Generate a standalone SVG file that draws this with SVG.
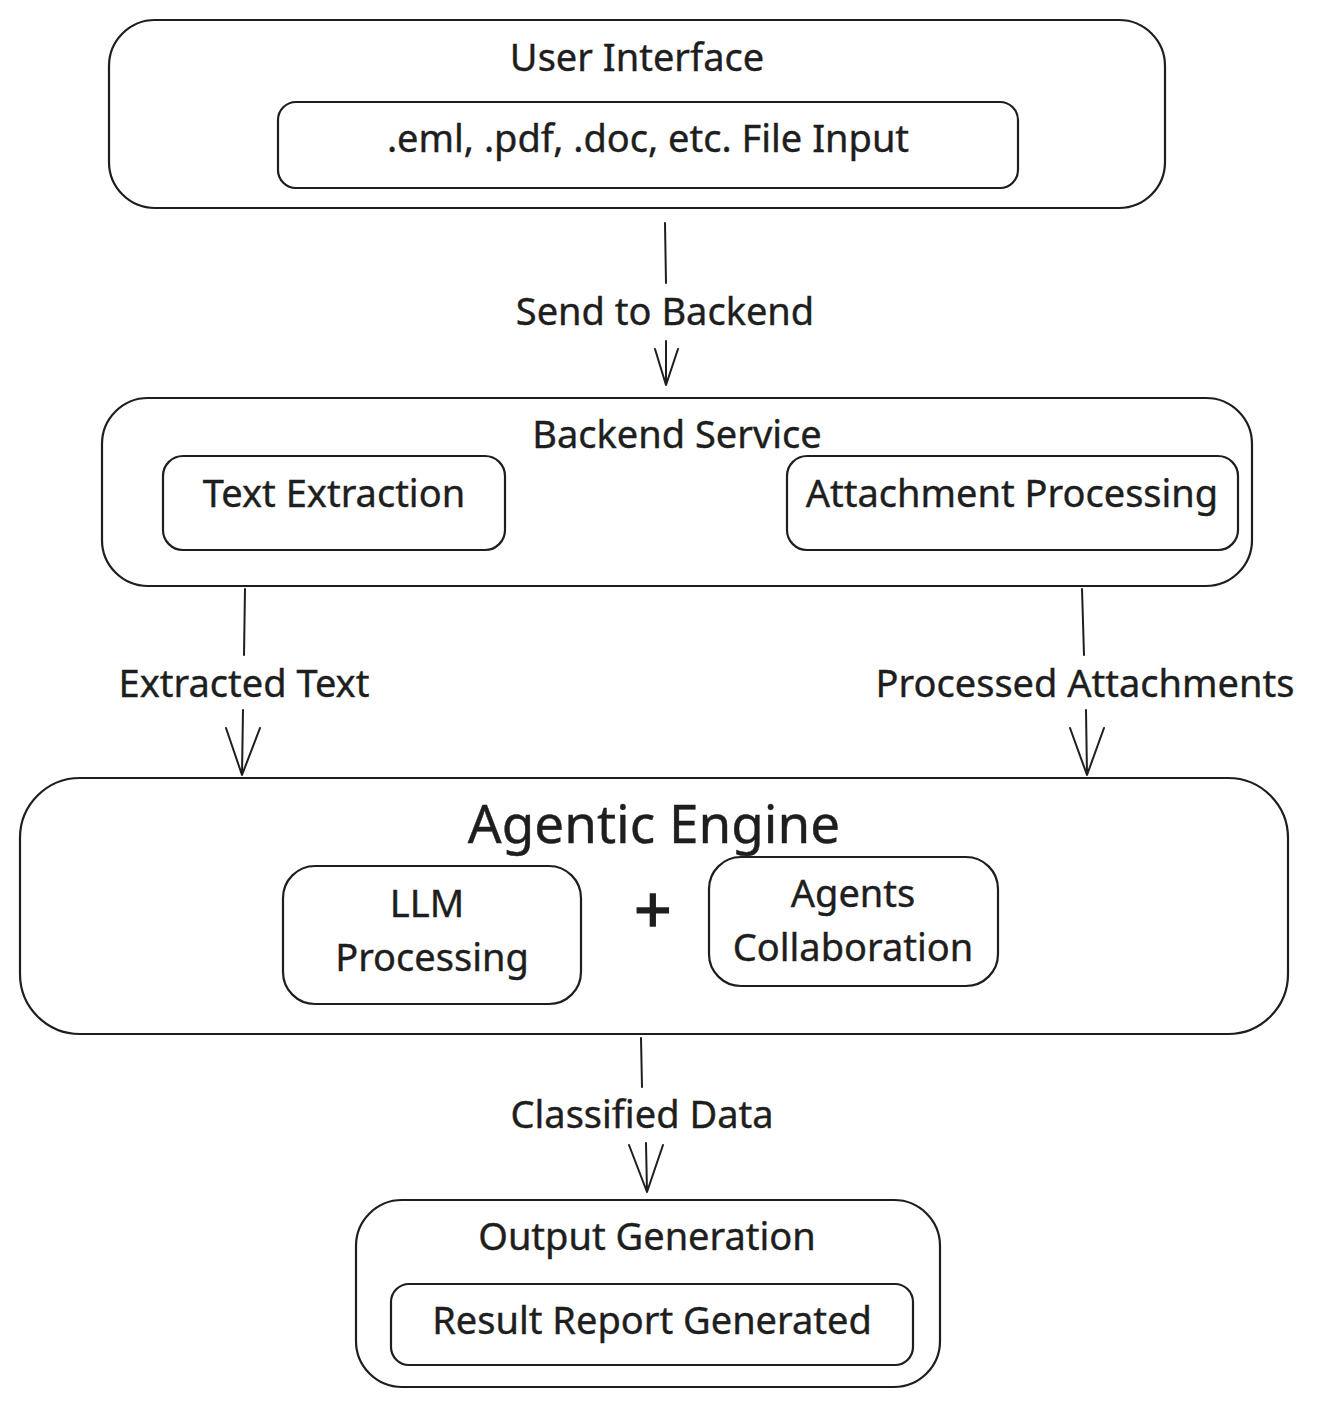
<svg xmlns="http://www.w3.org/2000/svg" width="1318" height="1407" viewBox="0 0 1318 1407">
<style>
.box{fill:none;stroke:#1e1e1e;stroke-width:2.2}
.t{font-family:"Noto Sans","Open Sans",sans-serif;fill:#1e1e1e;text-anchor:middle;font-size:38px;stroke:#1e1e1e;stroke-width:0.4}
.big{font-size:53px}
.plus{font-size:66px;stroke-width:1.5}
.ln{fill:none;stroke:#1e1e1e;stroke-width:2;stroke-linecap:round;stroke-linejoin:round}
</style>
<rect width="1318" height="1407" fill="#ffffff"/>
<g id="user-interface">
<rect class="box" x="109" y="20" width="1056" height="188" rx="46"/>
<text class="t" x="637" y="71">User Interface</text>
</g>
<g id="file-input">
<rect class="box" x="278" y="102" width="740" height="86" rx="18"/>
<text class="t" x="648" y="152">.eml, .pdf, .doc, etc. File Input</text>
</g>
<g id="backend-service">
<rect class="box" x="102" y="398" width="1150" height="188" rx="46"/>
<text class="t" x="677" y="448">Backend Service</text>
</g>
<g id="text-extraction">
<rect class="box" x="163" y="456" width="342" height="94" rx="20"/>
<text class="t" x="334" y="507">Text Extraction</text>
</g>
<g id="attachment-processing">
<rect class="box" x="787" y="456" width="451" height="94" rx="20"/>
<text class="t" x="1012" y="507">Attachment Processing</text>
</g>
<g id="agentic-engine">
<rect class="box" x="20" y="778" width="1268" height="256" rx="60"/>
<text class="t big" x="654" y="843">Agentic Engine</text>
<text class="t plus" x="653" y="933">+</text>
</g>
<g id="llm-processing">
<rect class="box" x="283" y="866" width="298" height="138" rx="32"/>
<text class="t" x="427" y="917">LLM</text>
<text class="t" x="432" y="971">Processing</text>
</g>
<g id="agents-collaboration">
<rect class="box" x="709" y="857" width="289" height="129" rx="32"/>
<text class="t" x="853" y="907">Agents</text>
<text class="t" x="853" y="961">Collaboration</text>
</g>
<g id="output-generation">
<rect class="box" x="356" y="1200" width="584" height="187" rx="46"/>
<text class="t" x="647" y="1250">Output Generation</text>
</g>
<g id="result-report">
<rect class="box" x="391" y="1284" width="522" height="81" rx="18"/>
<text class="t" x="652" y="1334">Result Report Generated</text>
</g>
<g id="connectors">
<path class="ln" d="M665 223 L666 283 M666 341 L666 385 M655 349 L666 385 L678 349"/>
<text class="t" x="665" y="325">Send to Backend</text>
<path class="ln" d="M245 589 L244 655 M243 710 L242 775 M226 728 L242 775 L260 728"/>
<text class="t" x="244" y="697">Extracted Text</text>
<path class="ln" d="M1082 589 L1084 655 M1086 710 L1087 775 M1070 728 L1087 775 L1104 728"/>
<text class="t" x="1085" y="697">Processed Attachments</text>
<path class="ln" d="M641 1038 L642 1087 M646 1143 L647 1192 M629 1145 L647 1192 L663 1145"/>
<text class="t" x="642" y="1128">Classified Data</text>
</g>
</svg>
